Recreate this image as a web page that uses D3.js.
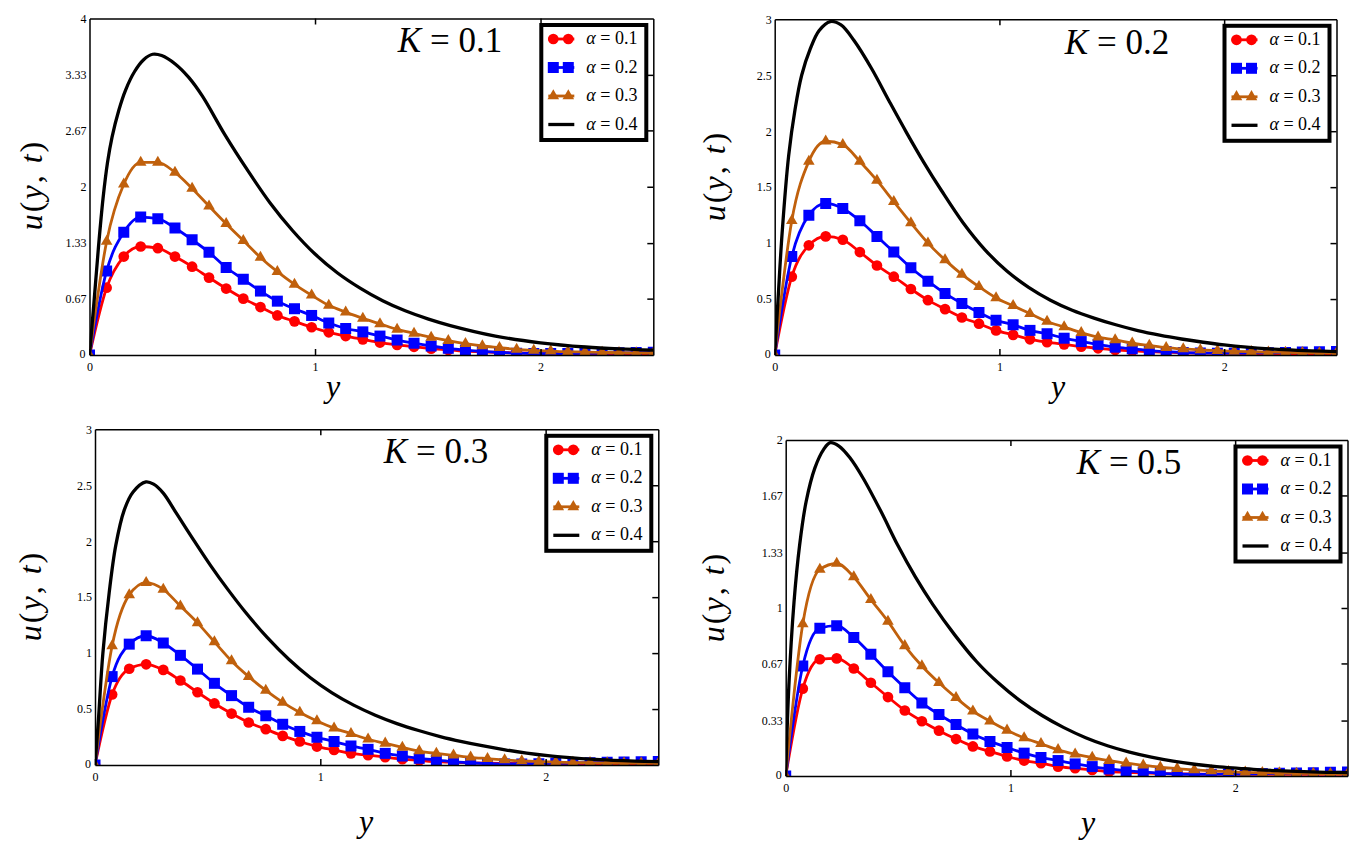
<!DOCTYPE html>
<html>
<head>
<meta charset="utf-8">
<script src="https://cdn.jsdelivr.net/npm/d3@7"></script>
<style>
  body { margin: 0; background: #fff; }
  svg text { font-family: "Liberation Serif", "Times New Roman", Times, "DejaVu Serif", serif; }
</style>
</head>
<body>
<svg id="chart" width="1368" height="860"></svg>
<script>
// y positions of the marked samples (same for every panel)
const yGrid = [0, 0.076, 0.152, 0.227, 0.303, 0.379, 0.455, 0.530, 0.606, 0.682, 0.758, 0.833,
  0.909, 0.985, 1.061, 1.136, 1.212, 1.288, 1.364, 1.439, 1.515, 1.591, 1.667, 1.742, 1.818,
  1.894, 1.970, 2.045, 2.121, 2.197, 2.273, 2.348, 2.424, 2.5];

const xTicks = [0, 1, 2];
const alphaLabels = ["0.1", "0.2", "0.3", "0.4"];
const kLabels = ["0.1", "0.2", "0.3", "0.5"];

const ticksK01 = [0, 0.67, 1.33, 2, 2.67, 3.33, 4];
const ticksK02 = [0, 0.5, 1, 1.5, 2, 2.5, 3];
const ticksK03 = [0, 0.5, 1, 1.5, 2, 2.5, 3];
const ticksK05 = [0, 0.33, 0.67, 1, 1.33, 1.67, 2];

// K = 0.1
const k01a1 = [0, 0.80, 1.17, 1.29, 1.27, 1.17, 1.05, 0.92, 0.79, 0.67, 0.57, 0.47, 0.40, 0.33, 0.27,
  0.225, 0.186, 0.148, 0.12, 0.097, 0.076, 0.06, 0.046, 0.037, 0.03, 0.025, 0.021, 0.018, 0.016,
  0.015, 0.014, 0.013, 0.012, 0.012];
const k01a2 = [0, 1.00, 1.46, 1.64, 1.62, 1.51, 1.37, 1.22, 1.04, 0.90, 0.76, 0.64, 0.55, 0.47, 0.38,
  0.315, 0.275, 0.225, 0.178, 0.14, 0.107, 0.08, 0.059, 0.042, 0.03, 0.022, 0.018, 0.017, 0.018,
  0.02, 0.023, 0.026, 0.029, 0.032];
const k01a3 = [0, 1.35, 2.03, 2.29, 2.29, 2.17, 1.98, 1.77, 1.56, 1.36, 1.16, 0.99, 0.84, 0.71, 0.59,
  0.51, 0.435, 0.37, 0.305, 0.257, 0.21, 0.17, 0.135, 0.107, 0.087, 0.067, 0.055, 0.047, 0.039,
  0.035, 0.031, 0.027, 0.025, 0.023];
const k01a4 = [[0, 0], [0.02, 0.63], [0.04, 1.29], [0.06, 1.86], [0.08, 2.29], [0.10, 2.59],
  [0.13, 2.91], [0.16, 3.15], [0.20, 3.37], [0.24, 3.51], [0.28, 3.575], [0.32, 3.56],
  [0.38, 3.46], [0.44, 3.30], [0.50, 3.08], [0.60, 2.62], [0.70, 2.20], [0.80, 1.81],
  [0.90, 1.48], [1.00, 1.20], [1.10, 0.975], [1.20, 0.795], [1.30, 0.645], [1.40, 0.525],
  [1.50, 0.43], [1.60, 0.35], [1.80, 0.225], [2.00, 0.145], [2.20, 0.095], [2.35, 0.072], [2.5, 0.057]];

// K = 0.2
const k02a1 = [0, 0.70, 0.98, 1.06, 1.03, 0.92, 0.80, 0.70, 0.59, 0.49, 0.41, 0.335, 0.28, 0.22, 0.18,
  0.14, 0.115, 0.095, 0.075, 0.06, 0.045, 0.036, 0.03, 0.025, 0.02, 0.017, 0.015, 0.013, 0.012,
  0.011, 0.01, 0.01, 0.01, 0.01];
const k02a2 = [0, 0.88, 1.25, 1.355, 1.31, 1.20, 1.06, 0.92, 0.78, 0.66, 0.55, 0.46, 0.38, 0.31, 0.27,
  0.22, 0.19, 0.15, 0.12, 0.095, 0.07, 0.055, 0.04, 0.03, 0.022, 0.018, 0.016, 0.016, 0.018,
  0.02, 0.023, 0.026, 0.029, 0.032];
const k02a3 = [0, 1.20, 1.73, 1.91, 1.88, 1.73, 1.56, 1.37, 1.18, 1.00, 0.85, 0.72, 0.61, 0.51, 0.44,
  0.37, 0.30, 0.25, 0.20, 0.16, 0.135, 0.105, 0.085, 0.066, 0.054, 0.045, 0.039, 0.033, 0.029,
  0.026, 0.023, 0.021, 0.019, 0.018];
const k02a4 = [[0, 0], [0.015, 0.5], [0.033, 1.09], [0.062, 1.78], [0.091, 2.20], [0.12, 2.50],
  [0.159, 2.74], [0.198, 2.90], [0.247, 2.98], [0.295, 2.95], [0.353, 2.81], [0.431, 2.56],
  [0.509, 2.27], [0.586, 1.99], [0.664, 1.72], [0.742, 1.47], [0.839, 1.18], [0.936, 0.94],
  [1.033, 0.75], [1.13, 0.605], [1.227, 0.49], [1.324, 0.40], [1.421, 0.33], [1.518, 0.27],
  [1.616, 0.218], [1.713, 0.177], [1.81, 0.143], [1.907, 0.114], [2.0, 0.09], [2.1, 0.07],
  [2.2, 0.055], [2.295, 0.045], [2.39, 0.037], [2.5, 0.03]];

// K = 0.3
const k03a1 = [0, 0.63, 0.86, 0.90, 0.85, 0.755, 0.65, 0.55, 0.46, 0.38, 0.32, 0.26, 0.21, 0.165, 0.134,
  0.104, 0.088, 0.07, 0.052, 0.04, 0.03, 0.024, 0.019, 0.016, 0.014, 0.012, 0.011, 0.01, 0.01,
  0.01, 0.01, 0.01, 0.01, 0.01];
const k03a2 = [0, 0.79, 1.08, 1.155, 1.09, 0.98, 0.857, 0.73, 0.62, 0.516, 0.44, 0.364, 0.30, 0.248, 0.21,
  0.17, 0.14, 0.104, 0.08, 0.06, 0.045, 0.03, 0.018, 0.012, 0.01, 0.01, 0.012, 0.015, 0.018,
  0.021, 0.024, 0.027, 0.029, 0.031];
const k03a3 = [0, 1.065, 1.52, 1.63, 1.57, 1.42, 1.27, 1.10, 0.93, 0.79, 0.666, 0.56, 0.47, 0.394, 0.33,
  0.28, 0.23, 0.194, 0.158, 0.125, 0.104, 0.087, 0.069, 0.057, 0.045, 0.036, 0.03, 0.026, 0.022,
  0.02, 0.018, 0.017, 0.016, 0.015];
const k03a4 = [[0, 0], [0.015, 0.40], [0.035, 1.0], [0.063, 1.54], [0.092, 1.96], [0.13, 2.28],
  [0.169, 2.44], [0.226, 2.53], [0.26, 2.51], [0.303, 2.43], [0.361, 2.25], [0.438, 2.01],
  [0.514, 1.78], [0.591, 1.565], [0.668, 1.365], [0.764, 1.14], [0.86, 0.945], [0.956, 0.78],
  [1.052, 0.645], [1.148, 0.535], [1.244, 0.445], [1.34, 0.37], [1.436, 0.308], [1.532, 0.254],
  [1.628, 0.209], [1.724, 0.17], [1.82, 0.136], [1.916, 0.107], [2.01, 0.084], [2.107, 0.066],
  [2.2, 0.052], [2.3, 0.042], [2.395, 0.035], [2.5, 0.03]];

// K = 0.5
const k05a1 = [0, 0.52, 0.695, 0.70, 0.64, 0.555, 0.47, 0.39, 0.326, 0.27, 0.22, 0.176, 0.146, 0.116,
  0.092, 0.076, 0.056, 0.046, 0.036, 0.026, 0.022, 0.018, 0.015, 0.013, 0.012, 0.011, 0.01, 0.01,
  0.01, 0.01, 0.01, 0.01, 0.01, 0.01];
const k05a2 = [0, 0.655, 0.88, 0.895, 0.825, 0.725, 0.62, 0.525, 0.435, 0.366, 0.306, 0.25, 0.206, 0.17,
  0.136, 0.11, 0.092, 0.072, 0.056, 0.042, 0.032, 0.024, 0.016, 0.012, 0.01, 0.01, 0.011, 0.012,
  0.014, 0.016, 0.018, 0.02, 0.022, 0.024];
const k05a3 = [0, 0.905, 1.23, 1.265, 1.185, 1.05, 0.92, 0.775, 0.655, 0.555, 0.466, 0.386, 0.326, 0.272,
  0.226, 0.192, 0.156, 0.13, 0.11, 0.092, 0.076, 0.064, 0.052, 0.044, 0.036, 0.03, 0.026, 0.022,
  0.02, 0.018, 0.016, 0.015, 0.014, 0.013];
const k05a4 = [[0, 0], [0.014, 0.535], [0.037, 1.035], [0.062, 1.375], [0.091, 1.634], [0.13, 1.834],
  [0.169, 1.944], [0.198, 1.984], [0.237, 1.964], [0.286, 1.894], [0.344, 1.774], [0.422, 1.58],
  [0.50, 1.37], [0.577, 1.185], [0.655, 1.02], [0.752, 0.84], [0.85, 0.68], [0.947, 0.553],
  [1.044, 0.447], [1.141, 0.36], [1.238, 0.288], [1.335, 0.228], [1.432, 0.18], [1.53, 0.142],
  [1.627, 0.112], [1.724, 0.088], [1.82, 0.07], [1.918, 0.056], [2.016, 0.046], [2.11, 0.037],
  [2.21, 0.031], [2.307, 0.026], [2.404, 0.022], [2.5, 0.02]];

// layout of the four panels
const panels = [
  { k: kLabels[0], yMax: 4, ticks: ticksK01, marked: [k01a1, k01a2, k01a3], plain: k01a4,
    left: 89.5, right: 653.3, top: 18.5, bottom: 355, title: [450, 52], xLab: [333, 397], yLab: [34, 185] },
  { k: kLabels[1], yMax: 3, ticks: ticksK02, marked: [k02a1, k02a2, k02a3], plain: k02a4,
    left: 774.7, right: 1336.5, top: 19.3, bottom: 355, title: [1117, 54], xLab: [1058, 397], yLab: [717, 176] },
  { k: kLabels[2], yMax: 3, ticks: ticksK03, marked: [k03a1, k03a2, k03a3], plain: k03a4,
    left: 95, right: 658.3, top: 429.3, bottom: 765, title: [436, 463], xLab: [366, 832], yLab: [33, 596] },
  { k: kLabels[3], yMax: 2, ticks: ticksK05, marked: [k05a1, k05a2, k05a3], plain: k05a4,
    left: 785.7, right: 1347.5, top: 440, bottom: 776, title: [1129, 474], xLab: [1088, 833], yLab: [716, 597] }
];

const markStyles = [
  { color: "#ff0000", symbol: d3.symbolCircle, size: 90 },
  { color: "#0000ff", symbol: d3.symbolSquare, size: 121 },
  { color: "#c0600c", symbol: d3.symbolTriangle, size: 58 }
];

const serif = '"Liberation Serif", "Times New Roman", Times, "DejaVu Serif", serif';
const svg = d3.select("#chart");

panels.forEach((p, pi) => {
  const x = d3.scaleLinear().domain([0, 2.5]).range([p.left, p.right]);
  const y = d3.scaleLinear().domain([0, p.yMax]).range([p.bottom, p.top]);
  const g = svg.append("g").attr("font-family", serif);

  // clip to the plot box
  const clipId = `clip${pi}`;
  svg.append("clipPath").attr("id", clipId)
    .append("rect")
    .attr("x", p.left).attr("y", p.top)
    .attr("width", p.right - p.left).attr("height", p.bottom - p.top);

  const plot = g.append("g").attr("clip-path", `url(#${clipId})`);

  // black curve, no markers
  const plainLine = d3.line()
    .x(d => x(d[0]))
    .y(d => y(d[1]))
    .curve(d3.curveCatmullRom.alpha(0.5));

  // marked series
  const markLine = d3.line()
    .x((d, i) => x(yGrid[i]))
    .y(d => y(d))
    .curve(d3.curveMonotoneX);

  p.marked.forEach((vals, si) => {
    const st = markStyles[si];
    plot.append("path")
      .datum(vals)
      .attr("fill", "none")
      .attr("stroke", st.color)
      .attr("stroke-width", 2.8)
      .attr("d", markLine);
    plot.selectAll(`.m${si}`)
      .data(vals)
      .join("path")
      .attr("class", `m${si}`)
      .attr("transform", (d, i) => `translate(${x(yGrid[i])},${y(d)})`)
      .attr("d", d3.symbol().type(st.symbol).size(st.size))
      .attr("fill", st.color);
  });

  plot.append("path")
    .datum(p.plain)
    .attr("fill", "none")
    .attr("stroke", "#000")
    .attr("stroke-width", 3.3)
    .attr("d", plainLine);

  // axes (ticks point inward)
  const axBottom = g.append("g")
    .attr("transform", `translate(0,${p.bottom})`)
    .call(d3.axisBottom(x).tickValues(xTicks).tickSize(-6).tickSizeOuter(0).tickPadding(7)
      .tickFormat(d => String(d)));
  const axLeft = g.append("g")
    .attr("transform", `translate(${p.left},0)`)
    .call(d3.axisLeft(y).tickValues(p.ticks).tickSize(0).tickSizeOuter(0).tickPadding(3)
      .tickFormat(d => String(d)));
  const axTop = g.append("g")
    .attr("transform", `translate(0,${p.top})`)
    .call(d3.axisTop(x).tickValues([1, 2]).tickSize(-6).tickSizeOuter(0).tickFormat(""));
  const axRight = g.append("g")
    .attr("transform", `translate(${p.right},0)`)
    .call(d3.axisRight(y).tickValues(p.ticks.slice(1, -1)).tickSize(-6).tickSizeOuter(0).tickFormat(""));

  [axBottom, axLeft, axTop, axRight].forEach(ax => {
    ax.attr("font-family", serif).attr("font-size", 12);
    ax.selectAll("path, line").attr("stroke", "#000").attr("stroke-width", 1.5);
    ax.selectAll("text").attr("fill", "#000");
  });
  // the zero on the y axis sits a little below its tick, as in the original
  axLeft.selectAll(".tick text").filter(d => d === 0).attr("dy", "0.2em").attr("x", -4);

  // title
  const title = g.append("text")
    .attr("x", p.title[0])
    .attr("y", p.title[1])
    .attr("text-anchor", "middle")
    .style("font-size", "35px");
  title.append("tspan").style("font-style", "italic").text("K");
  title.append("tspan").text(` = ${p.k}`);

  // axis labels
  g.append("text")
    .attr("x", p.xLab[0])
    .attr("y", p.xLab[1])
    .attr("text-anchor", "middle")
    .style("font-size", "32px")
    .style("font-style", "italic")
    .text("y");

  const yl = g.append("text")
    .attr("transform", `translate(${p.yLab[0]},${p.yLab[1]}) rotate(-90)`)
    .attr("text-anchor", "middle")
    .attr("dy", "0.26em")
    .style("font-size", "32px")
    .style("letter-spacing", "2px");
  yl.append("tspan").style("font-style", "italic").text("u");
  yl.append("tspan").text("(");
  yl.append("tspan").style("font-style", "italic").text("y");
  yl.append("tspan").text(", ");
  yl.append("tspan").style("font-style", "italic").text("t");
  yl.append("tspan").text(")");

  // legend
  const lw = 105, lh = 115;
  const lg = g.append("g")
    .attr("transform", `translate(${p.right - 7 - lw},${p.top + 6.5})`);
  lg.append("rect")
    .attr("width", lw).attr("height", lh)
    .attr("fill", "#fff")
    .attr("stroke", "#000")
    .attr("stroke-width", 4);

  alphaLabels.forEach((a, i) => {
    const cy = 14 + i * 28.5;
    const color = i < 3 ? markStyles[i].color : "#000";
    lg.append("line")
      .attr("x1", 7).attr("x2", 33)
      .attr("y1", cy).attr("y2", cy)
      .attr("stroke", color)
      .attr("stroke-width", i < 3 ? 2.8 : 3.3);
    if (i < 3) {
      [12, 27].forEach(mx => {
        lg.append("path")
          .attr("transform", `translate(${mx},${cy})`)
          .attr("d", d3.symbol().type(markStyles[i].symbol).size(markStyles[i].size))
          .attr("fill", color);
      });
    }
    const t = lg.append("text")
      .attr("x", 45)
      .attr("y", cy + 5)
      .style("font-size", "18px");
    t.append("tspan").style("font-style", "italic").text("α");
    t.append("tspan").text(` = ${a}`);
  });
});
</script>
</body>
</html>
